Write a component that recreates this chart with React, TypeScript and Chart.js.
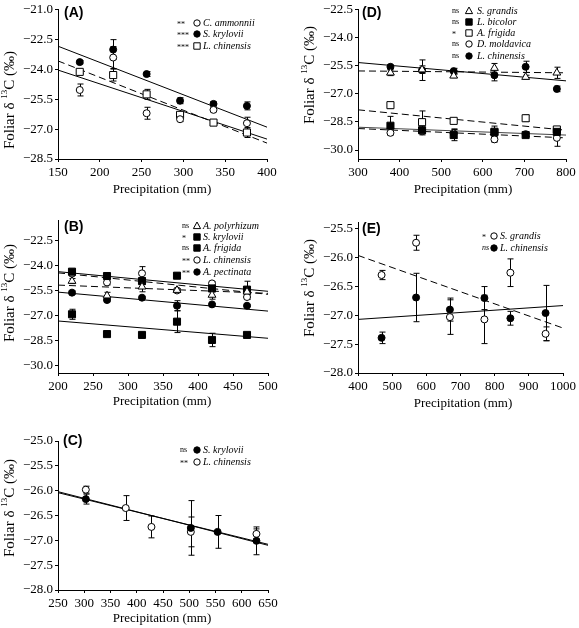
import React, { useEffect, useRef } from 'react';
import { Chart, registerables } from 'chart.js';

Chart.register(...registerables);

const W = 579;
const H = 628;
const SERIF = '"Liberation Serif", "Times New Roman", serif';
const SANS = '"Liberation Sans", Arial, sans-serif';

// ---------------- Panel A ----------------
const aPrecip = [176, 216, 256, 296, 336, 376];
const aTicksX = [150, 200, 250, 300, 350, 400];
const aTicksY = [-28.5, -27.0, -25.5, -24.0, -22.5, -21.0];
const aCammonnii = [-25.03, -23.4, -26.2, -26.5, -26.03, -26.7];
const aCammonniiErr = [0.3, 0.55, 0.3, 0.12, 0.1, 0.3];
const aSkrylovii = [-23.63, -23.0, -24.23, -25.57, -25.73, -25.83];
const aSkryloviiErr = [0.08, 0.5, 0.12, 0.15, 0.12, 0.2];
const aLchinensis = [-24.12, -24.28, -25.25, -26.28, -26.67, -27.17];
const aLchinensisErr = [0.08, 0.3, 0.25, 0.15, 0.08, 0.25];
const aFitX = [150, 400];
const aCammonniiFit = [-24.03, -27.5];
const aSkryloviiFit = [-22.83, -26.9];
const aLchinensisFit = [-23.57, -27.7];

// ---------------- Panel B ----------------
const bPrecip = [220, 270, 320, 370, 420, 470];
const bTicksX = [200, 250, 300, 350, 400, 450, 500];
const bTicksY = [-30.0, -28.5, -27.0, -25.5, -24.0, -22.5];
const bApolyrhizum = [-24.94, -25.81, -25.28, -25.48, -25.77, -25.58];
const bApolyrhizumErr = [0.15, 0.2, 0.3, 0.1, 0.25, 0.2];
const bSkrylovii = [-24.38, -24.64, -24.94, -24.62, -25.38, -25.45];
const bSkryloviiErr = [0.1, 0.15, 0.2, 0.15, 0.2, 0.5];
const bAfrigida = [-26.92, -28.1, -28.15, -27.36, -28.45, -28.15];
const bAfrigidaErr = [0.3, 0.05, 0.1, 0.65, 0.4, 0.05];
const bLchinensis = [-24.5, -25.02, -24.48, -25.5, -25.08, -25.89];
const bLchinensisErr = [0.1, 0.15, 0.4, 0.1, 0.1, 0.15];
const bApectinata = [-25.63, -26.07, -25.93, -26.41, -26.33, -26.41];
const bApectinataErr = [0.1, 0.1, 0.05, 0.3, 0.05, 0.05];
const bFitX = [200, 500];
const bApolyrhizumFit = [-25.18, -25.67];
const bSkryloviiFit = [-24.38, -25.55];
const bAfrigidaFit = [-27.32, -28.35];
const bLchinensisFit = [-24.45, -25.73];
const bApectinataFit = [-25.6, -26.73];

// ---------------- Panel C ----------------
const cSkPrecip = [303, 503, 554, 628];
const cLcPrecip = [303, 379, 428, 503, 628];
const cTicksX = [250, 300, 350, 400, 450, 500, 550, 600, 650];
const cTicksY = [-28.0, -27.5, -27.0, -26.5, -26.0, -25.5, -25.0];
const cSkrylovii = [-26.17, -26.75, -26.83, -27.01];
const cSkryloviiErr = [0.1, 0.55, 0.33, 0.28];
const cLchinensis = [-25.98, -26.35, -26.73, -26.83, -26.87];
const cLchinensisErr = [0.07, 0.25, 0.22, 0.3, 0.1];
const cFitX = [250, 650];
const cSkryloviiFit = [-26.02, -27.1];
const cLchinensisFit = [-26.04, -27.08];

// ---------------- Panel D ----------------
const dPrecip = [378, 454, 530, 628, 703, 778];
const dTicksX = [300, 400, 500, 600, 700, 800];
const dTicksY = [-30.0, -28.5, -27.0, -25.5, -24.0, -22.5];
const dSgrandis = [-25.87, -25.7, -26.03, -25.62, -26.1, -25.87];
const dSgrandisErr = [0.15, 0.2, 0.1, 0.25, 0.1, 0.3];
const dLbicolor = [-28.7, -28.94, -29.2, -29.05, -29.2, -29.03];
const dLbicolorErr = [0.5, 0.25, 0.3, 0.1, 0.1, 0.1];
const dAfrigida = [-27.6, -28.51, -28.44, -29.02, -28.3, -28.9];
const dAfrigidaErr = [0.15, 0.6, 0.05, 0.3, 0.17, 0.08];
const dDmoldavica = [-29.08, -29.0, -29.12, -29.43, -29.15, -29.35];
const dDmoldavicaErr = [0.1, 0.1, 0.25, 0.15, 0.1, 0.45];
const dLchinensis = [-25.55, -25.73, -25.78, -26.0, -25.55, -26.73];
const dLchinensisErr = [0.1, 0.55, 0.15, 0.3, 0.3, 0.15];
const dFitX = [300, 800];
const dSgrandisFit = [-25.77, -25.87];
const dLbicolorFit = [-28.78, -29.2];
const dAfrigidaFit = [-27.85, -28.94];
const dDmoldavicaFit = [-28.85, -29.35];
const dLchinensisFit = [-25.32, -26.3];

// ---------------- Panel E ----------------
const ePrecip = [469, 570, 669, 770, 846, 949];
const eTicksX = [400, 500, 600, 700, 800, 900, 1000];
const eTicksY = [-28.0, -27.5, -27.0, -26.5, -26.0, -25.5];
const eSgrandis = [-26.3, -25.74, -27.03, -27.07, -26.26, -27.32];
const eSgrandisErr = [0.08, 0.13, 0.3, 0.42, 0.24, 0.12];
const eLchinensis = [-27.39, -26.69, -26.9, -26.7, -27.05, -26.96];
const eLchinensisErr = [0.1, 0.42, 0.2, 0.2, 0.12, 0.48];
const eFitX = [400, 1000];
const eSgrandisFit = [-25.96, -27.22];
const eLchinensisFit = [-27.07, -26.83];

type Marker = 'openCircle' | 'filledCircle' | 'openSquare' | 'filledSquare' | 'openTriangle';
type Series = { name: string; sig: string; marker: Marker; x: number[]; y: number[]; err: number[] };
type Fit = { x: number[]; y: number[]; dash: boolean; color?: string };
type Panel = {
  label: string;
  plot: { l: number; r: number; t: number; b: number };
  xr: [number, number];
  yr: [number, number];
  xTicks: number[];
  yTicks: number[];
  series: Series[];
  fits: Fit[];
  legend: { starX: number; markerX: number; textX: number; rows: number[]; italicSig?: boolean };
  labelPos: [number, number];
  xTitle: [number, number];
  yTitle: [number, number];
};

const panels: Panel[] = [
  {
    label: '(A)',
    plot: { l: 58, r: 267, t: 9, b: 159 },
    xr: [150, 400], yr: [-28.5, -21.0], xTicks: aTicksX, yTicks: aTicksY,
    series: [
      { name: 'C. ammonnii', sig: '**', marker: 'openCircle', x: aPrecip, y: aCammonnii, err: aCammonniiErr },
      { name: 'S. krylovii', sig: '***', marker: 'filledCircle', x: aPrecip, y: aSkrylovii, err: aSkryloviiErr },
      { name: 'L. chinensis', sig: '***', marker: 'openSquare', x: aPrecip, y: aLchinensis, err: aLchinensisErr },
    ],
    fits: [
      { x: aFitX, y: aCammonniiFit, dash: false },
      { x: aFitX, y: aSkryloviiFit, dash: false },
      { x: aFitX, y: aLchinensisFit, dash: true },
    ],
    legend: { starX: 177, markerX: 197, textX: 203, rows: [23, 34, 46] },
    labelPos: [64, 13], xTitle: [162, 190], yTitle: [10, 100],
  },
  {
    label: '(B)',
    plot: { l: 58, r: 268, t: 220, b: 373 },
    xr: [200, 500], yr: [-30.42, -21.3], xTicks: bTicksX, yTicks: bTicksY,
    series: [
      { name: 'A. polyrhizum', sig: 'ns', marker: 'openTriangle', x: bPrecip, y: bApolyrhizum, err: bApolyrhizumErr },
      { name: 'S. krylovii', sig: '*', marker: 'filledSquare', x: bPrecip, y: bSkrylovii, err: bSkryloviiErr },
      { name: 'A. frigida', sig: 'ns', marker: 'filledSquare', x: bPrecip, y: bAfrigida, err: bAfrigidaErr },
      { name: 'L. chinensis', sig: '**', marker: 'openCircle', x: bPrecip, y: bLchinensis, err: bLchinensisErr },
      { name: 'A. pectinata', sig: '**', marker: 'filledCircle', x: bPrecip, y: bApectinata, err: bApectinataErr },
    ],
    fits: [
      { x: bFitX, y: bApolyrhizumFit, dash: true },
      { x: bFitX, y: bSkryloviiFit, dash: false },
      { x: bFitX, y: bAfrigidaFit, dash: false },
      { x: bFitX, y: bLchinensisFit, dash: true },
      { x: bFitX, y: bApectinataFit, dash: false },
    ],
    legend: { starX: 182, markerX: 197, textX: 203, rows: [226, 237, 248, 260, 272] },
    labelPos: [64, 227], xTitle: [162, 402], yTitle: [10, 293],
  },
  {
    label: '(C)',
    plot: { l: 58, r: 268, t: 441, b: 590 },
    xr: [250, 650], yr: [-28.0, -25.0], xTicks: cTicksX, yTicks: cTicksY,
    series: [
      { name: 'S. krylovii', sig: 'ns', marker: 'filledCircle', x: cSkPrecip, y: cSkrylovii, err: cSkryloviiErr },
      { name: 'L. chinensis', sig: '**', marker: 'openCircle', x: cLcPrecip, y: cLchinensis, err: cLchinensisErr },
    ],
    fits: [
      { x: cFitX, y: cSkryloviiFit, dash: false },
      { x: cFitX, y: cLchinensisFit, dash: false },
    ],
    legend: { starX: 180, markerX: 197, textX: 203, rows: [450, 462] },
    labelPos: [63, 441], xTitle: [162, 619], yTitle: [10, 508],
  },
  {
    label: '(D)',
    plot: { l: 358, r: 566, t: 9, b: 159 },
    xr: [300, 800], yr: [-30.48, -22.5], xTicks: dTicksX, yTicks: dTicksY,
    series: [
      { name: 'S. grandis', sig: 'ns', marker: 'openTriangle', x: dPrecip, y: dSgrandis, err: dSgrandisErr },
      { name: 'L. bicolor', sig: 'ns', marker: 'filledSquare', x: dPrecip, y: dLbicolor, err: dLbicolorErr },
      { name: 'A. frigida', sig: '*', marker: 'openSquare', x: dPrecip, y: dAfrigida, err: dAfrigidaErr },
      { name: 'D. moldavica', sig: 'ns', marker: 'openCircle', x: dPrecip, y: dDmoldavica, err: dDmoldavicaErr },
      { name: 'L. chinensis', sig: 'ns', marker: 'filledCircle', x: dPrecip, y: dLchinensis, err: dLchinensisErr },
    ],
    fits: [
      { x: dFitX, y: dSgrandisFit, dash: true },
      { x: dFitX, y: dLbicolorFit, dash: false, color: '#444' },
      { x: dFitX, y: dAfrigidaFit, dash: true },
      { x: dFitX, y: dDmoldavicaFit, dash: true },
      { x: dFitX, y: dLchinensisFit, dash: false },
    ],
    legend: { starX: 452, markerX: 469, textX: 477, rows: [11, 22, 33, 44, 56] },
    labelPos: [362, 13], xTitle: [463, 190], yTitle: [310, 75],
  },
  {
    label: '(E)',
    plot: { l: 358, r: 566, t: 222, b: 373 },
    xr: [400, 1000], yr: [-28.0, -25.38], xTicks: eTicksX, yTicks: eTicksY,
    series: [
      { name: 'S. grandis', sig: '*', marker: 'openCircle', x: ePrecip, y: eSgrandis, err: eSgrandisErr },
      { name: 'L. chinensis', sig: 'ns', marker: 'filledCircle', x: ePrecip, y: eLchinensis, err: eLchinensisErr },
    ],
    fits: [
      { x: eFitX, y: eSgrandisFit, dash: true },
      { x: eFitX, y: eLchinensisFit, dash: false },
    ],
    legend: { starX: 482, markerX: 494, textX: 500, rows: [236, 248], italicSig: true },
    labelPos: [362, 229], xTitle: [463, 404], yTitle: [310, 288],
  },
];

function styleFor(m: Marker) {
  const filled = m.startsWith('filled');
  if (m.endsWith('Square')) return { pointStyle: 'rect', radius: 5, bg: filled ? '#000' : '#fff' };
  if (m.endsWith('Triangle')) return { pointStyle: 'triangle', radius: 4.5, bg: '#fff' };
  return { pointStyle: 'circle', radius: 3.5, bg: filled ? '#000' : '#fff' };
}

function drawMarker(ctx: CanvasRenderingContext2D, m: Marker, x: number, y: number) {
  ctx.save();
  ctx.lineWidth = 1;
  ctx.strokeStyle = '#000';
  ctx.fillStyle = m.startsWith('filled') ? '#000' : '#fff';
  ctx.beginPath();
  if (m.endsWith('Square')) ctx.rect(x - 3.2, y - 3.2, 6.4, 6.4);
  else if (m.endsWith('Triangle')) {
    ctx.moveTo(x, y - 4);
    ctx.lineTo(x + 3.6, y + 2.6);
    ctx.lineTo(x - 3.6, y + 2.6);
    ctx.closePath();
  } else ctx.arc(x, y, 3.2, 0, Math.PI * 2);
  ctx.fill();
  ctx.stroke();
  ctx.restore();
}

const fmtY = (v: number) => (v < 0 ? '\u2212' : '') + Math.abs(v).toFixed(1);

function PanelChart({ p }: { p: Panel }) {
  const ref = useRef<HTMLCanvasElement>(null);
  useEffect(() => {
    const canvas = ref.current;
    if (!canvas) return;
    const yAxisW = 50;
    const xAxisH = 28;
    const datasets: any[] = [];
    p.fits.forEach((f) => {
      datasets.push({
        data: f.x.map((x, i) => ({ x, y: f.y[i] })),
        showLine: true,
        borderColor: f.color || '#000',
        borderWidth: 1,
        borderDash: f.dash ? [7, 4] : [],
        pointRadius: 0,
        fill: false,
        order: 2,
      });
    });
    p.series.forEach((s) => {
      const st = styleFor(s.marker);
      datasets.push({
        data: s.x.map((x, i) => ({ x, y: s.y[i] })),
        errorBars: s.err,
        showLine: false,
        pointStyle: st.pointStyle,
        pointRadius: st.radius,
        pointBackgroundColor: st.bg,
        pointBorderColor: '#000',
        pointBorderWidth: 1,
        order: 1,
      });
    });

    const errorBars = {
      id: 'errorBars',
      beforeDatasetsDraw(chart: any) {
        const ctx = chart.ctx as CanvasRenderingContext2D;
        const ys = chart.scales.y;
        chart.data.datasets.forEach((ds: any, i: number) => {
          if (!ds.errorBars) return;
          const meta = chart.getDatasetMeta(i);
          meta.data.forEach((el: any, j: number) => {
            const e = ds.errorBars[j];
            const v = ds.data[j].y;
            const x = Math.round(el.x) + 0.5;
            const y1 = ys.getPixelForValue(v + e);
            const y2 = ys.getPixelForValue(v - e);
            ctx.save();
            ctx.strokeStyle = '#000';
            ctx.lineWidth = 1;
            ctx.beginPath();
            ctx.moveTo(x, y1);
            ctx.lineTo(x, y2);
            ctx.moveTo(x - 3, y1);
            ctx.lineTo(x + 3, y1);
            ctx.moveTo(x - 3, y2);
            ctx.lineTo(x + 3, y2);
            ctx.stroke();
            ctx.restore();
          });
        });
      },
    };

    const decorations = {
      id: 'decorations',
      afterDraw(chart: any) {
        const ctx = chart.ctx as CanvasRenderingContext2D;
        ctx.save();
        ctx.fillStyle = '#000';
        ctx.font = `bold 14px ${SANS}`;
        ctx.textAlign = 'left';
        ctx.textBaseline = 'middle';
        ctx.fillText(p.label, p.labelPos[0], p.labelPos[1]);
        ctx.font = `13px ${SERIF}`;
        ctx.textAlign = 'center';
        ctx.fillText('Precipitation (mm)', p.xTitle[0], p.xTitle[1]);
        const parts = [
          { t: 'Foliar \u03B4 ', f: `15px ${SERIF}`, dy: 0 },
          { t: '13', f: `9px ${SERIF}`, dy: -5 },
          { t: 'C (\u2030)', f: `15px ${SERIF}`, dy: 0 },
        ];
        let total = 0;
        const widths = parts.map((pt) => {
          ctx.font = pt.f;
          const w = ctx.measureText(pt.t).width;
          total += w;
          return w;
        });
        ctx.save();
        ctx.translate(p.yTitle[0], p.yTitle[1]);
        ctx.rotate(-Math.PI / 2);
        ctx.textAlign = 'left';
        let cx = -total / 2;
        parts.forEach((pt, i) => {
          ctx.font = pt.f;
          ctx.fillText(pt.t, cx, pt.dy);
          cx += widths[i];
        });
        ctx.restore();
        const lg = p.legend;
        p.series.forEach((s, i) => {
          const y = lg.rows[i];
          ctx.font = `${lg.italicSig && s.sig === 'ns' ? 'italic ' : ''}8px ${SERIF}`;
          ctx.textAlign = 'left';
          ctx.textBaseline = 'middle';
          ctx.fillStyle = '#000';
          ctx.fillText(s.sig, lg.starX, y + (s.sig.startsWith('*') ? 1.5 : 0));
          drawMarker(ctx, s.marker, lg.markerX, y);
          ctx.fillStyle = '#000';
          ctx.font = `italic 10px ${SERIF}`;
          ctx.fillText(s.name, lg.textX, y);
        });
        ctx.restore();
      },
    };

    const axisCommon = {
      type: 'linear' as const,
      grid: { drawOnChartArea: false, drawTicks: true, tickLength: 3, color: '#000', lineWidth: 1 },
      border: { display: true, color: '#000', width: 1 },
    };

    const chart = new Chart(canvas, {
      type: 'scatter',
      data: { datasets },
      options: {
        responsive: false,
        animation: false,
        events: [],
        layout: {
          padding: {
            left: p.plot.l - yAxisW,
            top: p.plot.t,
            right: W - p.plot.r,
            bottom: H - p.plot.b - xAxisH,
          },
        },
        plugins: { legend: { display: false }, tooltip: { enabled: false }, title: { display: false } },
        scales: {
          x: {
            ...axisCommon,
            position: 'bottom',
            min: p.xr[0],
            max: p.xr[1],
            afterBuildTicks: (s: any) => {
              s.ticks = p.xTicks.map((v) => ({ value: v }));
            },
            afterFit: (s: any) => {
              s.height = xAxisH;
            },
            ticks: {
              color: '#000',
              font: { family: SERIF, size: 13 },
              padding: 3,
              maxRotation: 0,
              autoSkip: false,
              callback: (v: any) => String(v),
            },
          },
          y: {
            ...axisCommon,
            position: 'left',
            min: p.yr[0],
            max: p.yr[1],
            afterBuildTicks: (s: any) => {
              s.ticks = p.yTicks.map((v) => ({ value: v }));
            },
            afterFit: (s: any) => {
              s.width = yAxisW;
            },
            ticks: {
              color: '#000',
              font: { family: SERIF, size: 13 },
              padding: 2,
              autoSkip: false,
              callback: (v: any) => fmtY(Number(v)),
            },
          },
        },
      } as any,
      plugins: [errorBars, decorations],
    });
    return () => chart.destroy();
  }, [p]);
  return (
    <canvas
      ref={ref}
      width={W}
      height={H}
      style={{ position: 'absolute', left: 0, top: 0, width: W, height: H }}
    />
  );
}

export default function App() {
  return (
    <div style={{ position: 'absolute', left: 0, top: 0, width: W, height: H, background: '#fff', overflow: 'hidden' }}>
      {panels.map((p) => (
        <PanelChart key={p.label} p={p} />
      ))}
    </div>
  );
}
